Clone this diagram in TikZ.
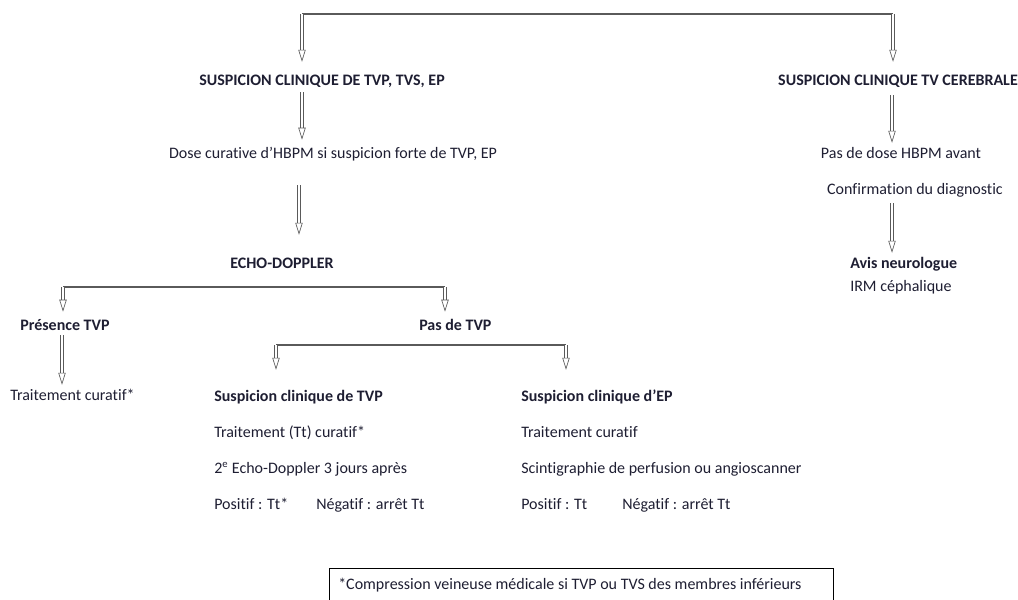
\documentclass[tikz,border=0pt]{standalone}
\usepackage{fontspec}
\setmainfont{Carlito}[Ligatures=NoCommon]
\usetikzlibrary{arrows.meta,positioning}
\definecolor{fcText}{HTML}{1E1E32}
\definecolor{fcLine}{HTML}{5A5A5A}

\begin{document}
\begin{tikzpicture}[x=0.75pt,y=-0.75pt,
  every node/.style={inner sep=0pt, text=fcText, text height=8pt, text depth=2.5pt,
    font=\fontsize{12}{14}\selectfont},
  title/.style={font=\fontsize{12}{14}\selectfont\bfseries},
  link/.style={draw=fcLine, line width=0.8pt},
  hollow/.style={draw=fcLine, line width=0.5pt, double=white, double distance=1.5pt,
    -{Triangle[open, length=9pt, width=5.5pt, line width=0.5pt]}}]
  \useasboundingbox (0,0) rectangle (1018,600);

  % left branch
  \node[title, anchor=base] (tvp) at (322,85) {SUSPICION CLINIQUE DE TVP, TVS, EP};
  \node[anchor=base] (dose) at (333,158) {Dose curative d’HBPM si suspicion forte de TVP, EP};
  \node[title, anchor=base] (echo) at (282,268) {ECHO-DOPPLER};
  \node[title, anchor=base west] (pres) at (20,330) {Présence TVP};
  \node[title, anchor=base west] (pas) at (419,330) {Pas de TVP};
  \node[anchor=base west] (trait) at (10,400) {Traitement curatif*};

  \node[title, anchor=base west] (stvp) at (214,401) {Suspicion clinique de TVP};
  \node[anchor=base west] (ttvp) at (214,437) {Traitement (Tt) curatif*};
  \node[anchor=base west] (etvp) at (214,473) {2\textsuperscript{e} Echo-Doppler 3 jours après};
  \node[anchor=base west] (ptvp) at (214,509) {Positif : Tt*};
  \node[anchor=base west] (ntvp) at (316,509) {Négatif : arrêt Tt};

  \node[title, anchor=base west] (sep) at (521,401) {Suspicion clinique d’EP};
  \node[anchor=base west] (tep) at (521,437) {Traitement curatif};
  \node[anchor=base west] (scep) at (521,473) {Scintigraphie de perfusion ou angioscanner};
  \node[anchor=base west] (pep) at (521,509) {Positif : Tt};
  \node[anchor=base west] (nep) at (622,509) {Négatif : arrêt Tt};

  % right branch
  \node[title, anchor=base] (cer) at (898,85) {SUSPICION CLINIQUE TV CEREBRALE};
  \node[anchor=base] (pdose) at (901,158) {Pas de dose HBPM avant};
  \node[anchor=base] (conf) at (915,194) {Confirmation du diagnostic};
  \node[title, anchor=base west] (avis) at (850,268) {Avis neurologue};
  \node[anchor=base west] (irm) at (850,291) {IRM céphalique};

  % footnote
  \draw[black, line width=0.6pt] (329,568) rectangle (833,612);
  \node[anchor=base west] (note) at (338,589) {*Compression veineuse médicale si TVP ou TVS des membres inférieurs};

  % brackets
  \coordinate (jl) at (302,14);
  \coordinate (jr) at (893,14);
  \coordinate (bl) at (63,287);
  \coordinate (br) at (445,287);
  \coordinate (cl) at (276,345);
  \coordinate (cr) at (566,345);
  \draw[link] (jl) -- (jr);
  \draw[link] (bl) -- (br);
  \draw[link] (cl) -- (cr);

  % arrows
  \draw[hollow, shorten >=9.2pt] (jl) -- (jl |- tvp.north);
  \draw[hollow, shorten >=9.2pt] (jr) -- (jr |- cer.north);
  \draw[hollow, shorten <=2.8pt, shorten >=5.5pt] (tvp.south -| jl) -- (dose.north -| jl);
  \draw[hollow, shorten <=17.8pt, shorten >=16.7pt] (dose.south -| 299,0) -- (echo.north -| 299,0);
  \draw[hollow, shorten >=5.5pt] (bl) -- (bl |- pres.north);
  \draw[hollow, shorten >=5.5pt] (br) -- (br |- pas.north);
  \draw[hollow, shorten <=1.3pt, shorten >=3.2pt] (pres.south -| 62,0) -- (trait.north -| 62,0);
  \draw[hollow, shorten >=15.2pt] (cl) -- (cl |- stvp.north);
  \draw[hollow, shorten >=15.2pt] (cr) -- (cr |- sep.north);
  \draw[hollow, shorten <=5pt, shorten >=3.2pt] (cer.south -| 892,0) -- (pdose.north -| 892,0);
  \draw[hollow, shorten <=4.3pt, shorten >=3.2pt] (conf.south -| 892,0) -- (avis.north -| 892,0);
\end{tikzpicture}
\end{document}
